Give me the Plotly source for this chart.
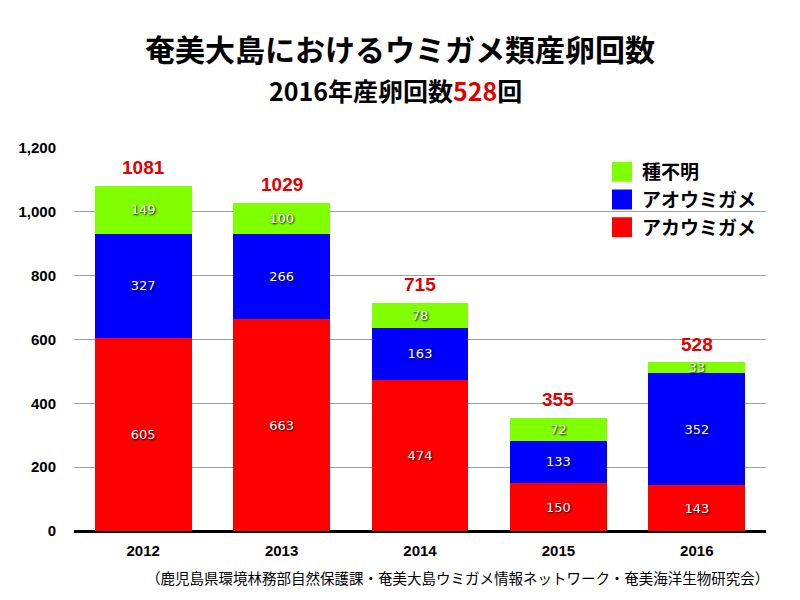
import plotly.graph_objects as go

years = ["2012", "2013", "2014", "2015", "2016"]
loggerhead = [605, 663, 474, 150, 143]   # アカウミガメ
green_turtle = [327, 266, 163, 133, 352] # アオウミガメ
unknown = [149, 100, 78, 72, 33]         # 種不明
totals = [1081, 1029, 715, 355, 528]
y_ticks = [0, 200, 400, 600, 800, 1000, 1200]
y_labels = ["<b>0</b>", "<b>200</b>", "<b>400</b>", "<b>600</b>", "<b>800</b>", "<b>1,000</b>", "<b>1,200</b>"]
x_labels = ["<b>2012</b>", "<b>2013</b>", "<b>2014</b>", "<b>2015</b>", "<b>2016</b>"]

JP = "Noto Sans CJK JP"
RED = "#FF0000"
BLUE = "#0000FF"
LIME = "#80FF00"

L, R, T, B = 74, 34, 148, 69
PW = 800 - L - R

fig = go.Figure()
series = [
    ("アカウミガメ", loggerhead, RED),
    ("アオウミガメ", green_turtle, BLUE),
    ("種不明", unknown, LIME),
]
for name, vals, col in series:
    fig.add_trace(go.Bar(
        x=years, y=vals, name=name, marker=dict(color=col, line=dict(width=0)),
        text=[str(v) for v in vals], textposition="inside", insidetextanchor="middle",
        textfont=dict(color="white", size=13, family="DejaVu Sans",
                      shadow="1px 1px 2px #000"),
        textangle=0, constraintext="none", showlegend=False,
        hoverinfo="skip",
    ))

# totals above bars (category index positions)
for i, t in enumerate(totals):
    fig.add_annotation(x=i, y=t, xref="x", yref="y", text=f"<b>{t}</b>",
                       showarrow=False, yanchor="middle", yshift=18,
                       font=dict(color="#E00000", size=19, family="Liberation Sans"))

# legend entries with large squares
for name, vals, col in series:
    fig.add_trace(go.Scatter(
        x=[years[0]], y=[None], mode="markers", name=f"<b>{name}</b>",
        marker=dict(symbol="square", size=16, color=col, line=dict(color=col, width=4)),
    ))

cx = (400 - L) / PW
fig.add_annotation(xref="paper", yref="paper", x=cx, y=1, yshift=T - 48,
                   text="<b>奄美大島におけるウミガメ類産卵回数</b>",
                   showarrow=False, xanchor="center", yanchor="middle",
                   font=dict(size=30, color="black", family=JP))
fig.add_annotation(xref="paper", yref="paper", x=(395 - L) / PW, y=1, yshift=T - 90,
                   text="<b>2016年産卵回数<span style='color:#E00000'>528</span>回</b>",
                   showarrow=False, xanchor="center", yanchor="middle",
                   font=dict(size=25, color="black", family=JP))
fig.add_annotation(xref="paper", yref="paper", x=(771 - L) / PW, y=0, yshift=-(577 - (600 - B)),
                   text="（鹿児島県環境林務部自然保護課・奄美大島ウミガメ情報ネットワーク・奄美海洋生物研究会）",
                   showarrow=False, xanchor="right", yanchor="middle",
                   font=dict(size=14.5, color="black", family=JP))

fig.update_layout(
    width=800, height=600,
    margin=dict(l=L, r=R, t=T, b=B, autoexpand=False),
    barmode="stack", bargap=0.30,
    plot_bgcolor="white", paper_bgcolor="white",
    legend=dict(x=(602 - L) / PW, y=1 - (153 - T) / 383, xanchor="left", yanchor="top",
                traceorder="reversed", bgcolor="rgba(0,0,0,0)",
                font=dict(size=19, family=JP, color="black"),
                itemsizing="trace", tracegroupgap=0),
    yaxis=dict(range=[0, 1200], tickvals=y_ticks, ticktext=y_labels,
               showgrid=True, gridcolor="#A0A0A0", gridwidth=1,
               zeroline=True, zerolinecolor="black", zerolinewidth=1.5,
               tickfont=dict(size=15, family="Liberation Sans", color="black"),
               ticks="", ticklabelstandoff=17),
    xaxis=dict(type="category", categoryorder="array", categoryarray=years,
               tickvals=years, ticktext=x_labels,
               showline=True, linecolor="black", linewidth=1.5,
               tickfont=dict(size=15, family="Liberation Sans", color="black"),
               ticks="", ticklabelstandoff=5),
    font=dict(family=JP),
)

fig.write_html("out.html", config={"displayModeBar": False},
               post_script="document.body.style.margin='0';document.body.style.padding='0';")
